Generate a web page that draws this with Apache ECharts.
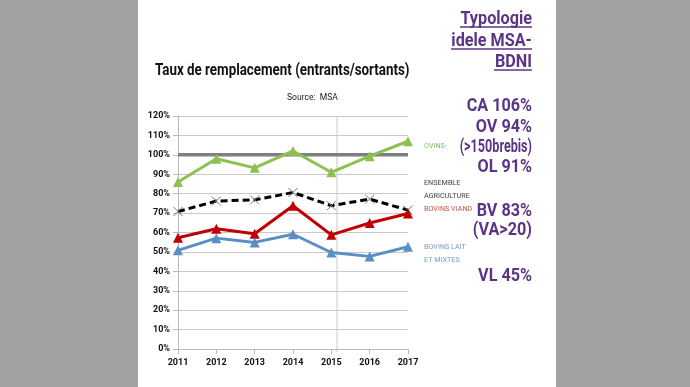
<!DOCTYPE html>
<html><head><meta charset="utf-8">
<script src="https://cdn.jsdelivr.net/npm/echarts@6/dist/echarts.min.js"></script>
<style>html,body{margin:0;padding:0;background:#a2a2a2}#c{width:690px;height:387px}</style>
</head><body><div id="c"></div>
<script>
const years = ['2011','2012','2013','2014','2015','2016','2017'];
const ovins = [86, 98, 93.3, 102, 91, 99.3, 107];
const ensemble = [70.8, 76.2, 76.8, 80.6, 73.8, 77.2, 71.5];
const bovinsViande = [57.3, 61.9, 59.4, 73.8, 58.8, 64.9, 69.8];
const bovinsLait = [50.8, 57.1, 54.9, 59.1, 49.7, 47.7, 52.7];
const reference = [100, 100, 100, 100, 100, 100, 100];
const yTicks = [0, 10, 20, 30, 40, 50, 60, 70, 80, 90, 100, 110, 120];
const headNotes = ['Typologie', 'idele MSA-', 'BDNI'];
const sideNotes = ['CA 106%', 'OV 94%', '(>150brebis)', 'OL 91%', 'BV 83%', '(VA>20)', 'VL 45%'];

const headY = [19, 41, 62];
const sideNoteY = [106, 127, 147, 167, 211, 230, 276];
const sideScale = [0.9, 0.9, 0.7, 0.9, 0.9, 0.9, 0.9];
const chart = echarts.init(document.getElementById('c'));
const purple = '#5c3486';
const crossPath = 'path://M0,0L10,10M10,0L0,10';
const narrow = 'Roboto, "Open Sans", sans-serif';
function txt(x, y, text, font, fill, align, sx, z){
  return {type:'text', x:x, y:y, scaleX:sx||1, z:z||5,
    style:{x:0,y:0,text:text,font:font,fill:fill,align:align||'left',verticalAlign:'middle'}};
}
function tri(color){return {type:'line',symbol:'triangle',symbolSize:10,lineStyle:{width:3,color:color},itemStyle:{color:color},z:5};}
const pfont = 'bold 18px ' + narrow;
const graphics = [
  {type:'rect',shape:{x:138,y:0,width:418,height:387},style:{fill:'#ffffff'},z:-10},
  {type:'line',shape:{x1:337,y1:116,x2:337,y2:352},style:{stroke:'#c8c8c8',lineWidth:1},z:-1},
  txt(155, 71, 'Taux de remplacement (entrants/sortants)', 'bold 16px ' + narrow, '#111', 'left', 0.835),
  txt(287, 98, 'Source:  MSA', '9px ' + narrow, '#222', 'left', 0.95),
  txt(424, 146, 'OVINS-', '8px ' + narrow, '#7fbf6a', 'left', 0.9),
  txt(424, 183, 'ENSEMBLE', '8px ' + narrow, '#444', 'left', 0.9),
  txt(424, 196, 'AGRICULTURE', '8px ' + narrow, '#444', 'left', 0.9),
  txt(424, 209, 'BOVINS VIAND', '8px ' + narrow, '#d05050', 'left', 0.9),
  txt(424, 247, 'BOVINS LAIT', '8px ' + narrow, '#7a9bbf', 'left', 0.9),
  txt(424, 260, 'ET MIXTES', '8px ' + narrow, '#7a9bbf', 'left', 0.9),
  {type:'line',shape:{x1:460,y1:27,x2:532,y2:27},style:{stroke:purple,lineWidth:1.5}},
  {type:'line',shape:{x1:451,y1:49,x2:532,y2:49},style:{stroke:purple,lineWidth:1.5}},
  {type:'line',shape:{x1:494,y1:70,x2:532,y2:70},style:{stroke:purple,lineWidth:1.5}}
];
headNotes.forEach((t,i)=>graphics.push(txt(532, headY[i], t, pfont, purple, 'right', 0.9, 10)));
sideNotes.forEach((t,i)=>graphics.push(txt(532, sideNoteY[i], t, pfont, purple, 'right', sideScale[i], 10)));

chart.setOption({
  animation:false,
  backgroundColor:'#a2a2a2',
  graphic:graphics,
  grid:{left:178,right:282,top:116,bottom:38,containLabel:false},
  xAxis:{type:'category',data:years,boundaryGap:false,
    axisLine:{lineStyle:{color:'#bbb'}},axisTick:{show:true,alignWithLabel:true,lineStyle:{color:'#bbb'}},
    axisLabel:{color:'#111',fontWeight:'bold',fontSize:9,fontFamily:narrow,margin:9},
    splitLine:{show:false}},
  yAxis:{type:'value',min:0,max:120,interval:10,
    axisLine:{show:true,lineStyle:{color:'#bbb'}},axisTick:{show:true,lineStyle:{color:'#bbb'}},
    axisLabel:{color:'#111',fontWeight:'bold',fontSize:9,fontFamily:narrow,formatter:v=>yTicks.includes(v)?v+'%':''},
    splitLine:{lineStyle:{color:'#c8c8c8'}}},
  series:[
    {type:'line',data:reference,symbol:'none',lineStyle:{width:3.5,color:'#7f7f7f'},z:3},
    Object.assign(tri('#8cc152'),{data:ovins,name:'Ovins'}),
    {type:'line',data:ensemble,name:'Ensemble',symbol:crossPath,symbolSize:9,lineStyle:{width:3,type:[7,4],color:'#000'},itemStyle:{color:'none',borderColor:'#777',borderWidth:1},z:4},
    Object.assign(tri('#c00000'),{data:bovinsViande,name:'Bovins viande'}),
    Object.assign(tri('#5a8fc4'),{data:bovinsLait,name:'Bovins lait'})
  ]
});
</script></body></html>
